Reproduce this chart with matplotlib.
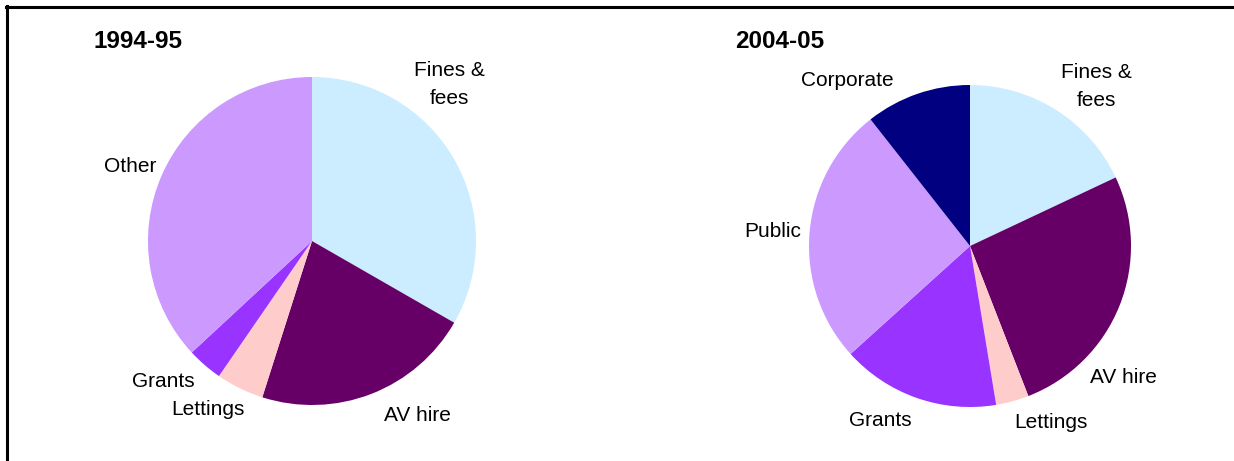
import matplotlib.pyplot as plt
from matplotlib.lines import Line2D

plt.rcParams['font.family'] = ['Liberation Sans', 'DejaVu Sans']

# data (share of income, %)
labels_9495 = ["Fines &\nfees", "AV hire", "Lettings", "Grants", "Other"]
values_9495 = [33.3, 21.6, 4.7, 3.5, 36.9]
colors_9495 = ["#CCECFF", "#660066", "#FFCCCC", "#9933FF", "#CC99FF"]

labels_0405 = ["Fines &\nfees", "AV hire", "Lettings", "Grants", "Public", "Corporate"]
values_0405 = [18.0, 26.1, 3.3, 15.9, 26.1, 10.6]
colors_0405 = ["#CCECFF", "#660066", "#FFCCCC", "#9933FF", "#CC99FF", "#000080"]

# label positions relative to pie radius
pos_9495 = [(0.835, 0.957), (0.64, -1.067), (-0.634, -1.03), (-0.909, -0.854), (-1.11, 0.457)]
pos_0405 = [(0.783, 0.988), (0.95, -0.814), (0.503, -1.099), (-0.559, -1.081),
            (-1.224, 0.093), (-0.764, 1.025)]

W, H = 1234, 461
fig = plt.figure(figsize=(W / 100, H / 100), dpi=100)


def draw_pie(cx, cy, r, values, colors, labels, pos, title, title_x):
    ax = fig.add_axes([(cx - r) / W, (H - cy - r) / H, 2 * r / W, 2 * r / H])
    ax.pie(values, colors=colors, startangle=90, counterclock=False,
           wedgeprops=dict(linewidth=0))
    ax.set_xlim(-1, 1)
    ax.set_ylim(-1, 1)
    ax.set_aspect('equal')
    ax.axis('off')
    for lab, (x, y) in zip(labels, pos):
        ax.text(x, y, lab, ha='center', va='center', fontsize=15,
                linespacing=1.6, clip_on=False)
    fig.text(title_x / W, 1 - 42 / H, title, fontsize=17.5, fontweight='bold',
             ha='left', va='center')


draw_pie(312, 241, 164, values_9495, colors_9495, labels_9495, pos_9495, "1994-95", 93)
draw_pie(970, 246, 161, values_0405, colors_0405, labels_0405, pos_0405, "2004-05", 735)

# frame (top and left edges only visible)
fig.add_artist(Line2D([6 / W, 1], [1 - 7 / H, 1 - 7 / H], color='black', lw=2.2,
                      transform=fig.transFigure))
fig.add_artist(Line2D([7 / W, 7 / W], [0, 1 - 6 / H], color='black', lw=2.2,
                      transform=fig.transFigure))

fig.savefig("out.png", dpi=100)
